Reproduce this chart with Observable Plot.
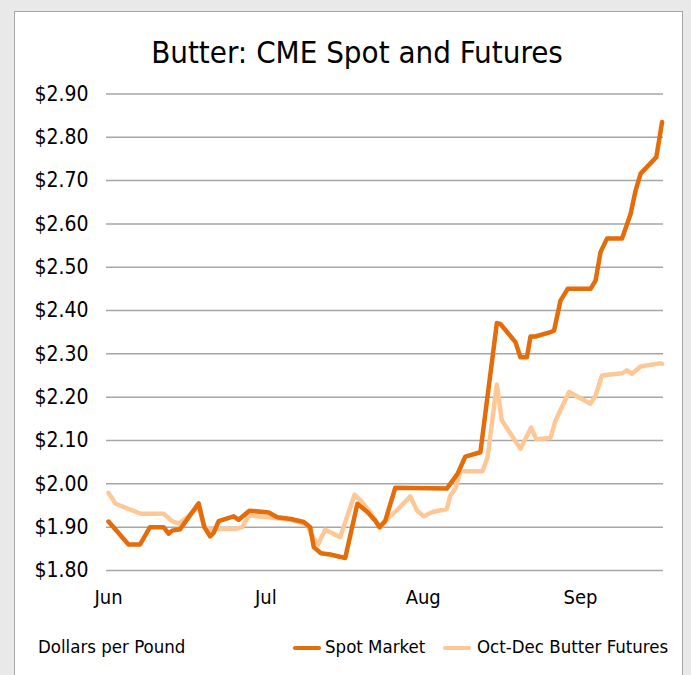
<!DOCTYPE html>
<html><head><meta charset="utf-8">
<script src="https://cdn.jsdelivr.net/npm/d3@7"></script>
<script src="https://cdn.jsdelivr.net/npm/@observablehq/plot@0.6"></script>
<style>
html,body{margin:0;padding:0;}
body{background:#e9e9e9;width:691px;height:675px;overflow:hidden;position:relative;font-family:"DejaVu Sans Condensed","DejaVu Sans",sans-serif;color:#000;}
#panel{position:absolute;left:14px;top:11px;width:669px;height:700px;background:#fff;border:1px solid #a6a6a6;box-sizing:border-box;}
#title{position:absolute;left:0;top:37px;width:714px;text-align:center;font-size:31px;line-height:31px;white-space:nowrap;}
#chart{position:absolute;left:0;top:70px;}
.leg{position:absolute;font-size:18.5px;line-height:18.5px;white-space:nowrap;top:638px;}
.sw{position:absolute;height:4px;top:646px;border-radius:2px;}
</style>
</head><body>
<div id="panel"></div>
<div id="title">Butter: CME Spot and Futures</div>
<div id="chart"></div>
<div class="leg" style="left:38px">Dollars per Pound</div>
<div class="sw" style="left:293px;width:28px;background:#e46c0a"></div>
<div class="leg" style="left:325px">Spot Market</div>
<div class="sw" style="left:443px;width:28px;background:#fdc896"></div>
<div class="leg" style="left:477px">Oct-Dec Butter Futures</div>
<script>
// trading-day index (0 = Jun 1) and price in $/lb
const spotDay = [0,2.8,4.4,5.8,7.7,8.4,8.9,10.0,12.6,13.4,14.2,14.7,15.4,17.5,18.2,19.7,22.4,23.6,25.5,27.3,28.2,28.7,29.7,31.0,33.1,34.8,36.2,37.3,37.9,38.7,40.1,47.3,48.8,49.9,52.0,54.3,54.8,56.9,57.6,58.5,59.0,59.7,61.8,62.3,63.2,64.2,67.4,68.1,68.8,69.7,71.8,73.0,73.7,74.4,76.6,77.4];
const spotPrice = [1.913,1.860,1.860,1.900,1.900,1.885,1.892,1.895,1.955,1.900,1.879,1.887,1.914,1.925,1.917,1.938,1.934,1.923,1.919,1.912,1.900,1.854,1.840,1.837,1.829,1.954,1.935,1.915,1.900,1.915,1.991,1.989,2.023,2.063,2.073,2.371,2.369,2.327,2.292,2.292,2.340,2.340,2.350,2.354,2.423,2.450,2.450,2.469,2.535,2.566,2.566,2.623,2.677,2.716,2.754,2.835];
const futDay = [0,1.0,4.5,7.7,8.9,9.8,11.0,12.6,13.4,14.3,15.0,17.8,18.7,19.6,22.4,25.5,27.8,28.3,29.3,30.3,32.4,34.4,35.2,36.6,38.0,39.2,40.4,42.2,43.1,44.1,45.3,47.3,47.8,48.5,49.2,52.3,53.0,54.3,55.0,57.6,59.1,59.8,61.8,62.5,64.4,67.4,68.1,69.0,71.8,72.5,73.2,74.4,77.0,77.4];
const futPrice = [1.979,1.954,1.931,1.931,1.914,1.908,1.923,1.948,1.900,1.894,1.896,1.896,1.900,1.927,1.923,1.917,1.906,1.885,1.860,1.894,1.877,1.975,1.962,1.935,1.899,1.923,1.940,1.971,1.939,1.925,1.935,1.942,1.973,1.989,2.029,2.029,2.061,2.229,2.146,2.081,2.130,2.103,2.106,2.146,2.212,2.185,2.204,2.250,2.255,2.262,2.254,2.271,2.278,2.277];
const monthTicks = [0,22,44,66];
const monthLabels = ["Jun","Jul","Aug","Sep"];
const yTicks = [1.8,1.9,2.0,2.1,2.2,2.3,2.4,2.5,2.6,2.7,2.8,2.9];
const seriesNames = ["Spot Market","Oct-Dec Butter Futures"];
const seriesColors = ["#e46c0a","#fdc896"];

const spot = spotDay.map((d,i)=>({day:d, price:spotPrice[i], s:seriesNames[0]}));
const fut = futDay.map((d,i)=>({day:d, price:futPrice[i], s:seriesNames[1]}));

const chart = Plot.plot({
  width: 691, height: 540,
  marginLeft: 106, marginRight: 28, marginTop: 23.4, marginBottom: 40,
  style: {fontFamily: '"DejaVu Sans Condensed","DejaVu Sans",sans-serif', fontSize: "20px", color: "#000", background: "transparent"},
  x: {domain: [-0.28, 77.6], ticks: monthTicks, tickFormat: d => monthLabels[monthTicks.indexOf(d)], tickSize: 0, tickPadding: 19, label: null},
  y: {domain: [1.8, 2.9], ticks: yTicks, tickFormat: d => "$" + d.toFixed(2), tickSize: 0, tickPadding: 18, label: null},
  color: {domain: seriesNames, range: seriesColors},
  marks: [
    Plot.gridY(yTicks, {stroke: "#a6a6a6", strokeOpacity: 1, strokeWidth: 1.5}),
    Plot.line(fut, {x: "day", y: "price", stroke: "s", strokeWidth: 4.5, strokeLinejoin: "round"}),
    Plot.line(spot, {x: "day", y: "price", stroke: "s", strokeWidth: 4.5, strokeLinejoin: "round"}),
    Plot.axisY(yTicks, {tickFormat: d => "$" + d.toFixed(2), tickSize: 0, tickPadding: 18, fontSize: 21})
  ]
});
document.getElementById("chart").appendChild(chart);
</script>
</body></html>
